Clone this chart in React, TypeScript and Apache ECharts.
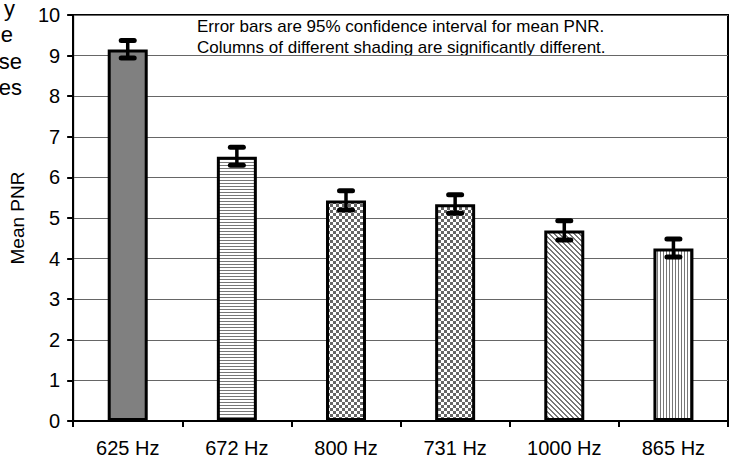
import React, { useEffect, useRef } from "react";
import * as echarts from "echarts";

const categories = ["625 Hz", "672 Hz", "800 Hz", "731 Hz", "1000 Hz", "865 Hz"];
const means = [9.15, 6.51, 5.43, 5.34, 4.69, 4.25];
const errLow = [8.94, 6.3, 5.2, 5.12, 4.46, 4.04];
const errHigh = [9.37, 6.74, 5.67, 5.57, 4.93, 4.48];
const patterns = ["solid", "hlines", "checker", "checker", "diag", "vlines"];
const notes = [
  "Error bars are 95% confidence interval for mean PNR.",
  "Columns of different shading are significantly different.",
];
const sideFragments = ["y", "e", "se", "es"];

function makePattern(kind: string): any {
  if (kind === "solid") return "#808080";
  const c = document.createElement("canvas");
  const ctx = c.getContext("2d")!;
  if (kind === "hlines") {
    c.width = 4; c.height = 3;
    ctx.fillStyle = "#fff"; ctx.fillRect(0, 0, 4, 3);
    ctx.fillStyle = "#777"; ctx.fillRect(0, 0, 4, 1);
  } else if (kind === "vlines") {
    c.width = 3; c.height = 4;
    ctx.fillStyle = "#fff"; ctx.fillRect(0, 0, 3, 4);
    ctx.fillStyle = "#777"; ctx.fillRect(0, 0, 1, 4);
  } else if (kind === "checker") {
    c.width = 6; c.height = 6;
    ctx.fillStyle = "#fff"; ctx.fillRect(0, 0, 6, 6);
    ctx.fillStyle = "#666"; ctx.fillRect(0, 0, 3, 3); ctx.fillRect(3, 3, 3, 3);
  } else if (kind === "diag") {
    c.width = 5; c.height = 5;
    ctx.fillStyle = "#fff"; ctx.fillRect(0, 0, 5, 5);
    ctx.fillStyle = "#777";
    for (let i = 0; i < 5; i++) {
      ctx.fillRect(i, i, 1, 1);
      ctx.fillRect((i + 1) % 5, i, 1, 1);
    }
  }
  return { image: c, repeat: "repeat" };
}

export default function App() {
  const ref = useRef<HTMLDivElement>(null);
  useEffect(() => {
    const chart = echarts.init(ref.current!, null, { renderer: "svg" });
    const font = "Liberation Sans, Arial, sans-serif";
    chart.setOption({
      animation: false,
      grid: { left: 73, right: 9, top: 15, bottom: 38, show: true, borderColor: "#000", borderWidth: 2, backgroundColor: "transparent" },
      xAxis: {
        type: "category",
        data: categories,
        axisLine: { lineStyle: { color: "#000", width: 2 } },
        axisTick: { show: true, length: 6, lineStyle: { color: "#000", width: 2 } },
        axisLabel: { color: "#000", fontSize: 20, fontFamily: font, margin: 17 },
      },
      yAxis: {
        type: "value",
        min: 0,
        max: 10,
        interval: 1,
        name: "Mean PNR",
        nameLocation: "middle",
        nameGap: 38,
        nameTextStyle: { color: "#000", fontSize: 19, fontFamily: font },
        axisLine: { show: true, lineStyle: { color: "#000", width: 2 } },
        axisTick: { show: true, length: 6, lineStyle: { color: "#000", width: 2 } },
        axisLabel: { color: "#000", fontSize: 20, fontFamily: font, margin: 13 },
        splitLine: { show: true, lineStyle: { color: "#666", width: 1 } },
      },
      graphic: [
        ...notes.map((t, i) => ({
          type: "text",
          left: 197,
          top: 18 + i * 21,
          style: { text: t, fontSize: 17, fontFamily: font, fill: "#000" },
        })),
        ...sideFragments.map((t, i) => ({
          type: "text",
          x: [15, 13, 22, 22][i],
          y: 8 + i * 26.5,
          style: { text: t, fontSize: 22, fontFamily: font, fill: "#000", align: "right", verticalAlign: "middle" },
        })),
      ],
      series: [
        {
          type: "bar",
          barWidth: 40,
          data: means.map((v, i) => ({
            value: v,
            itemStyle: { color: makePattern(patterns[i]), borderColor: "#000", borderWidth: 3 },
          })),
          z: 2,
        },
        {
          type: "custom",
          z: 5,
          data: categories.map((_, i) => [i, errLow[i], errHigh[i]]),
          renderItem: (params: any, api: any) => {
            const x = api.value(0);
            const lo = api.coord([x, api.value(1)]);
            const hi = api.coord([x, api.value(2)]);
            const hw = 6.5;
            const st = { stroke: "#000", lineWidth: 3.5, lineCap: "round" };
            return {
              type: "group",
              children: [
                { type: "line", shape: { x1: lo[0], y1: lo[1], x2: hi[0], y2: hi[1] }, style: st },
                { type: "line", shape: { x1: lo[0] - hw, y1: lo[1], x2: lo[0] + hw, y2: lo[1] }, style: { ...st, lineWidth: 5 } },
                { type: "line", shape: { x1: hi[0] - hw, y1: hi[1], x2: hi[0] + hw, y2: hi[1] }, style: { ...st, lineWidth: 5 } },
              ],
            };
          },
        },
      ],
    });
    return () => chart.dispose();
  }, []);
  return <div ref={ref} style={{ width: 737, height: 459, position: "absolute", left: 0, top: 0 }} />;
}
